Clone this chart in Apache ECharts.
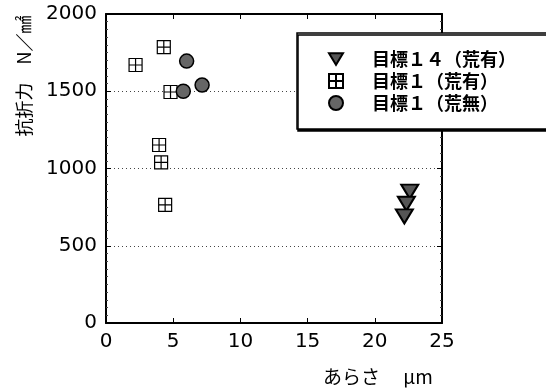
<!DOCTYPE html>
<html lang="ja">
<head>
<meta charset="UTF-8">
<title>抗折力とあらさ</title>
<script src="https://cdn.jsdelivr.net/npm/echarts@6/dist/echarts.min.js"></script>
<style>
  html, body { margin: 0; padding: 0; background: #fff; }
  #main { width: 546px; height: 390px; }
</style>
</head>
<body>
<div id="main"></div>
<script>
  // 凡例
  var seriesNames = ['目標１４（荒有）', '目標１（荒有）', '目標１（荒無）'];
  // [あらさ μm, 抗折力 N/mm2]
  var target14Rough = [[22.6, 850], [22.35, 772], [22.2, 690]];
  var target1Rough = [[2.2, 1670], [4.3, 1785], [4.8, 1495], [3.95, 1152], [4.1, 1040], [4.4, 765]];
  var target1Smooth = [[6.0, 1695], [5.75, 1500], [7.15, 1540]];
  // 目盛
  var xTicks = [0, 5, 10, 15, 20, 25];
  var yTicks = [0, 500, 1000, 1500, 2000];

  var FONT = '"DejaVu Sans", "Noto Sans", sans-serif';
  var JP = '"Noto Sans CJK JP", sans-serif';

  var triDown = 'path://M0,0L12,0L6,10Z';
  var crossBox = 'path://M0,0H12V12H0ZM6,0V12M0,6H12';

  var myChart = echarts.init(document.getElementById('main'));

  var frameAxis = {
    axisLine: { show: true, onZero: false, lineStyle: { color: '#000', width: 2 } },
    axisTick: { show: true, inside: true, length: 5, lineStyle: { color: '#000', width: 1 } },
    axisLabel: { show: false },
    splitLine: { show: false }
  };
  var plainNum = function (v) { return String(v); };

  myChart.setOption({
    animation: false,
    grid: { left: 106, top: 14, right: 104, bottom: 67 },
    xAxis: [
      Object.assign({}, frameAxis, {
        type: 'value', position: 'bottom',
        min: xTicks[0], max: xTicks[xTicks.length - 1], interval: xTicks[1] - xTicks[0],
        axisLabel: { show: true, color: '#000', fontSize: 20, fontFamily: FONT, margin: 9, formatter: plainNum }
      }),
      Object.assign({}, frameAxis, {
        type: 'value', position: 'top',
        min: xTicks[0], max: xTicks[xTicks.length - 1], interval: xTicks[1] - xTicks[0]
      })
    ],
    yAxis: [
      Object.assign({}, frameAxis, {
        type: 'value', position: 'left',
        min: yTicks[0], max: yTicks[yTicks.length - 1], interval: yTicks[1] - yTicks[0],
        minorTick: { show: true, splitNumber: 10, length: 2, lineStyle: { color: '#444' } },
        axisLabel: { show: true, color: '#000', fontSize: 20, fontFamily: FONT, margin: 9, formatter: plainNum },
        splitLine: { show: true, lineStyle: { type: [1, 3], color: '#444', width: 1 } }
      }),
      Object.assign({}, frameAxis, {
        type: 'value', position: 'right',
        min: yTicks[0], max: yTicks[yTicks.length - 1], interval: yTicks[1] - yTicks[0],
        minorTick: { show: true, splitNumber: 10, length: 2, lineStyle: { color: '#444' } }
      })
    ],
    legend: {
      orient: 'vertical',
      left: 297,
      top: 33,
      padding: [17, 80, 17, 31],
      itemGap: 4,
      itemWidth: 14,
      itemHeight: 14,
      backgroundColor: '#fff',
      borderColor: '#000',
      borderWidth: 1.5,
      shadowColor: '#000',
      shadowBlur: 0,
      shadowOffsetX: 1,
      shadowOffsetY: 2,
      textStyle: { color: '#000', fontSize: 18, lineHeight: 16, fontWeight: 'bold', fontFamily: JP, padding: [0, 0, 0, 24] },
      data: seriesNames
    },
    series: [
      {
        name: seriesNames[0], type: 'scatter', symbol: triDown, symbolSize: [17, 14],
        itemStyle: { color: '#555', borderColor: '#000', borderWidth: 2, opacity: 1 },
        data: target14Rough
      },
      {
        name: seriesNames[1], type: 'scatter', symbol: crossBox, symbolSize: 13,
        itemStyle: { color: '#fff', borderColor: '#000', borderWidth: 1.2, opacity: 1 },
        data: target1Rough
      },
      {
        name: seriesNames[2], type: 'scatter', symbol: 'circle', symbolSize: 14,
        itemStyle: { color: '#666', borderColor: '#000', borderWidth: 1.5, opacity: 1 },
        data: target1Smooth
      }
    ],
    graphic: [
      {
        type: 'text', x: 24, y: 76, rotation: Math.PI / 2,
        style: { text: '抗折力　N／㎟', fill: '#000', fontSize: 18, fontFamily: JP, align: 'center', verticalAlign: 'middle' }
      },
      {
        type: 'text', x: 323, y: 377,
        style: { text: 'あらさ　 μm', fill: '#000', fontSize: 19, fontFamily: JP, align: 'left', verticalAlign: 'middle' }
      }
    ]
  });
</script>
</body>
</html>
